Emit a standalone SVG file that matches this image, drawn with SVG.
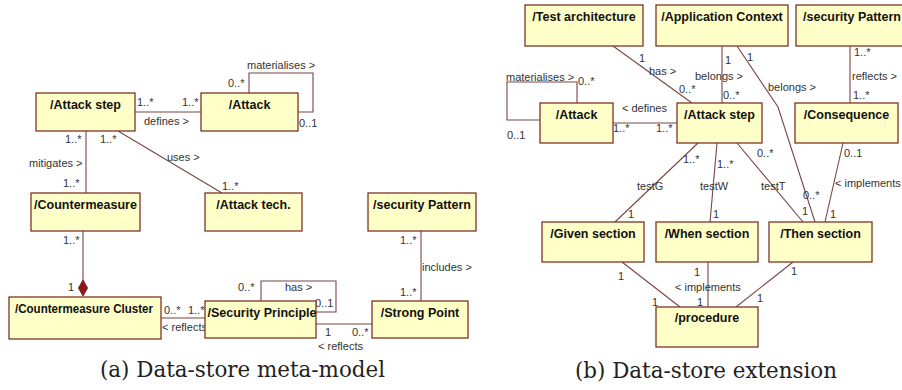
<svg xmlns="http://www.w3.org/2000/svg" width="902" height="390" viewBox="0 0 902 390">
<style>
.box rect{fill:#ffffc8;stroke:#7f3327;stroke-width:1.3}
.box text{font-family:"Liberation Sans",Arial,sans-serif;font-weight:bold;font-size:12.5px;fill:#111;text-anchor:middle}
.ln path,.ln line,.ln polyline{fill:none;stroke:#7a4545;stroke-width:1.1}
.lbl{font-family:"Liberation Sans",Arial,sans-serif;font-size:11px;fill:#333}
.cap{font-family:"DejaVu Serif","Liberation Serif",serif;font-size:21.5px;fill:#222}
</style>
<rect width="902" height="390" fill="#fff"/>

<g class="ln" id="connectors">
<path d="M135 112H201"/>
<path d="M249 93V73H313V112H298"/>
<path d="M86 131V193"/>
<path d="M118 131L222 193"/>
<path d="M83 231V281"/>
<polygon points="83,280 87.5,288 83,296 78.5,288" fill="#8b1a1a" stroke="#8b1a1a"/>
<path d="M261 301V281H336V312H316"/>
<path d="M161 318H205"/>
<path d="M316 324H372"/>
<path d="M421 231V301"/>

<path d="M613 46L692 103"/>
<path d="M722 46V103"/>
<polyline points="737,46 778,107 815,222"/>
<path d="M850 46V103"/>
<path d="M577 103V82H507V120H540"/>
<path d="M613 123H677"/>
<path d="M698 143L615 222"/>
<path d="M717 143L710 222"/>
<path d="M737 143L803 222"/>
<path d="M843 143L825 222"/>
<path d="M622 262L680 307"/>
<path d="M708 262V307"/>
<path d="M793 262L736 307"/>
</g>

<g id="labels">
<text class="lbl" x="247" y="69">materialises &gt;</text>
<text class="lbl" x="228" y="87">0..*</text>
<text class="lbl" x="299" y="127">0..1</text>
<text class="lbl" x="137" y="106">1..*</text>
<text class="lbl" x="182" y="106">1..*</text>
<text class="lbl" x="144" y="125">defines &gt;</text>
<text class="lbl" x="65" y="143">1..*</text>
<text class="lbl" x="100" y="143">1..*</text>
<text class="lbl" x="29" y="167">mitigates &gt;</text>
<text class="lbl" x="63" y="187">1..*</text>
<text class="lbl" x="167" y="161">uses &gt;</text>
<text class="lbl" x="222" y="190">1..*</text>
<text class="lbl" x="63" y="244">1..*</text>
<text class="lbl" x="68" y="291">1</text>
<text class="lbl" x="400" y="244">1..*</text>
<text class="lbl" x="422" y="271">includes &gt;</text>
<text class="lbl" x="400" y="296">1..*</text>
<text class="lbl" x="238" y="291">0..*</text>
<text class="lbl" x="285" y="291">has &gt;</text>
<text class="lbl" x="315" y="307">0..1</text>
<text class="lbl" x="164" y="314">0..*</text>
<text class="lbl" x="188" y="314">1..*</text>
<text class="lbl" x="162" y="331">&lt; reflects</text>
<text class="lbl" x="325" y="336">1</text>
<text class="lbl" x="352" y="336">0..*</text>
<text class="lbl" x="318" y="350">&lt; reflects</text>

<text class="lbl" x="506" y="81">materialises &gt;</text>
<text class="lbl" x="578" y="85">0..*</text>
<text class="lbl" x="507" y="139">0..1</text>
<text class="lbl" x="639" y="62">1</text>
<text class="lbl" x="649" y="75">has &gt;</text>
<text class="lbl" x="679" y="93">0..*</text>
<text class="lbl" x="622" y="112">&lt; defines</text>
<text class="lbl" x="613" y="132">1..*</text>
<text class="lbl" x="656" y="132">1..*</text>
<text class="lbl" x="725" y="64">1</text>
<text class="lbl" x="695" y="80">belongs &gt;</text>
<text class="lbl" x="723" y="99">0..*</text>
<text class="lbl" x="747" y="61">1</text>
<text class="lbl" x="768" y="91">belongs &gt;</text>
<text class="lbl" x="854" y="56">1..*</text>
<text class="lbl" x="852" y="80">reflects &gt;</text>
<text class="lbl" x="853" y="99">1..*</text>
<text class="lbl" x="757" y="157">0..*</text>
<text class="lbl" x="844" y="157">0..1</text>
<text class="lbl" x="683" y="163">1..*</text>
<text class="lbl" x="717" y="168">1..*</text>
<text class="lbl" x="637" y="190">testG</text>
<text class="lbl" x="700" y="190">testW</text>
<text class="lbl" x="761" y="190">testT</text>
<text class="lbl" x="803" y="199">0..*</text>
<text class="lbl" x="835" y="187">&lt; implements</text>
<text class="lbl" x="628" y="218">1</text>
<text class="lbl" x="713" y="218">1</text>
<text class="lbl" x="802" y="215">1</text>
<text class="lbl" x="830" y="218">1</text>
<text class="lbl" x="618" y="280">1</text>
<text class="lbl" x="694" y="276">1</text>
<text class="lbl" x="791" y="275">1</text>
<text class="lbl" x="675" y="291">&lt; implements</text>
<text class="lbl" x="652" y="306">1</text>
<text class="lbl" x="697" y="306">1</text>
<text class="lbl" x="757" y="302">1</text>
</g>

<g class="box" id="n_attack_step_a"><rect x="36" y="93" width="99" height="38"/><text x="85.5" y="109">/Attack step</text></g>
<g class="box" id="n_attack_a"><rect x="201" y="93" width="97" height="38"/><text x="249.5" y="109">/Attack</text></g>
<g class="box" id="n_countermeasure"><rect x="31" y="193" width="109" height="38"/><text x="85.5" y="209">/Countermeasure</text></g>
<g class="box" id="n_attack_tech"><rect x="205" y="193" width="97" height="38"/><text x="253.5" y="209">/Attack tech.</text></g>
<g class="box" id="n_secpattern_a"><rect x="368" y="193" width="108" height="38"/><text x="422" y="209">/security Pattern</text></g>
<g class="box" id="n_cluster"><rect x="9" y="297" width="152" height="42"/><text x="84" y="313" font-size="12px" textLength="138" lengthAdjust="spacingAndGlyphs">/Countermeasure Cluster</text></g>
<g class="box" id="n_principle"><rect x="205" y="301" width="111" height="37"/><text x="262" y="317">/Security Principle</text></g>
<g class="box" id="n_strong"><rect x="372" y="301" width="96" height="37"/><text x="420" y="317">/Strong Point</text></g>

<g class="box" id="n_test_arch"><rect x="525" y="5" width="118" height="41"/><text x="584" y="21">/Test architecture</text></g>
<g class="box" id="n_app_ctx"><rect x="656" y="5" width="132" height="41"/><text x="722" y="21">/Application Context</text></g>
<g class="box" id="n_secpattern_b"><rect x="796" y="5" width="112" height="41"/><text x="852" y="21">/security Pattern</text></g>
<g class="box" id="n_attack_b"><rect x="540" y="103" width="73" height="40"/><text x="576.5" y="119">/Attack</text></g>
<g class="box" id="n_attack_step_b"><rect x="677" y="103" width="85" height="40"/><text x="719.5" y="119">/Attack step</text></g>
<g class="box" id="n_consequence"><rect x="795" y="103" width="103" height="40"/><text x="846.5" y="119">/Consequence</text></g>
<g class="box" id="n_given"><rect x="542" y="222" width="102" height="40"/><text x="593" y="238">/Given section</text></g>
<g class="box" id="n_when"><rect x="656" y="222" width="102" height="40"/><text x="707" y="238">/When section</text></g>
<g class="box" id="n_then"><rect x="769" y="222" width="103" height="40"/><text x="820.5" y="238">/Then section</text></g>
<g class="box" id="n_procedure"><rect x="656" y="307" width="102" height="40"/><text x="707" y="322">/procedure</text></g>

<text class="cap" x="100" y="377" textLength="285" lengthAdjust="spacingAndGlyphs">(a) Data-store meta-model</text>
<text class="cap" x="575" y="378" textLength="262" lengthAdjust="spacingAndGlyphs">(b) Data-store extension</text>
</svg>
